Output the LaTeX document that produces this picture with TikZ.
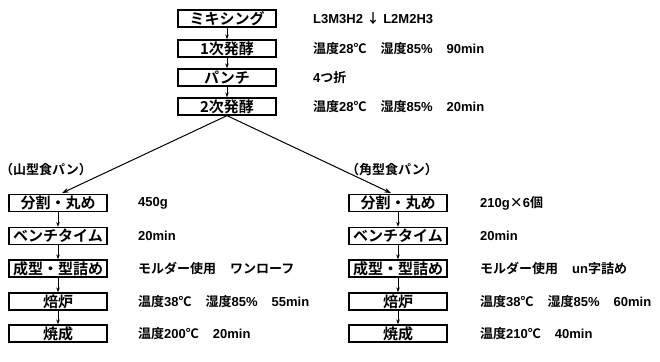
\documentclass[tikz,border=0pt]{standalone}
\usepackage{fontspec}
\usetikzlibrary{arrows.meta}
\newfontfamily\jp[BoldFont={Noto Sans CJK JP Bold}]{Noto Sans CJK JP}
\newfontfamily\lat{Liberation Sans}
\newcommand\J[1]{{\jp\bfseries #1}}
\newcommand\gp{\hspace{14pt}}
\tikzset{
  stepbox/.style={draw=black, line width=1.3pt, minimum width=98pt, minimum height=17pt, inner sep=0pt, font=\jp\bfseries\fontsize{15}{15}\selectfont},
  note/.style={anchor=west, inner sep=0pt, font=\lat\bfseries\fontsize{13}{14}\selectfont},
  lbl/.style={anchor=west, inner sep=0pt, font=\jp\bfseries\fontsize{13}{14}\selectfont},
  flow/.style={line width=0.8pt, -{Stealth[length=5pt,width=3.5pt]}},
  branch/.style={line width=1pt, -{Stealth[length=7pt,width=4.5pt]}, shorten >=2pt}
}
\begin{document}
\begin{tikzpicture}[x=1pt,y=-1pt]
\useasboundingbox (0,0) rectangle (660,361);
% top column
\node[stepbox] (mix) at (227,18.5) {ミキシング};
\node[stepbox] (f1) at (227,48.5) {1次発酵};
\node[stepbox] (pun) at (227,77.5) {パンチ};
\node[stepbox] (f2) at (227,106.5) {2次発酵};
\node[note] (tmix) at (313,18.5) {L3M3H2 \J{↓} L2M2H3};
\node[note] (tf1) at (313,48.5) {\J{温度}28\J{℃}\gp\J{湿度}85\%\gp 90min};
\node[note] (tpun) at (313,77.5) {4\J{つ折}};
\node[note] (tf2) at (313,106.5) {\J{温度}28\J{℃}\gp\J{湿度}85\%\gp 20min};
\draw[flow] (mix) -- (f1);
\draw[flow] (f1) -- (pun);
\draw[flow] (pun) -- (f2);
% labels
\node[lbl] (ly) at (0,170) {（山型食パン）};
\node[lbl] (lk) at (346,170) {（角型食パン）};
% left column
\node[stepbox] (a1) at (58,203) {分割・丸め};
\node[stepbox] (a2) at (58,236) {ベンチタイム};
\node[stepbox] (a3) at (58,268.5) {成型・型詰め};
\node[stepbox] (a4) at (58,301.5) {焙炉};
\node[stepbox] (a5) at (58,333.5) {焼成};
\node[note] (ta1) at (138,203) {450g};
\node[note] (ta2) at (138,236) {20min};
\node[note] (ta3) at (138,268.5) {\J{モルダー使用}\gp\J{ワンローフ}};
\node[note] (ta4) at (138,301.5) {\J{温度}38\J{℃}\gp\J{湿度}85\%\gp 55min};
\node[note] (ta5) at (138,333.5) {\J{温度}200\J{℃}\gp 20min};
\draw[flow] (a1) -- (a2);
\draw[flow] (a2) -- (a3);
\draw[flow] (a3) -- (a4);
\draw[flow] (a4) -- (a5);
% right column
\node[stepbox] (b1) at (398,203) {分割・丸め};
\node[stepbox] (b2) at (398,236) {ベンチタイム};
\node[stepbox] (b3) at (398,268.5) {成型・型詰め};
\node[stepbox] (b4) at (398,301.5) {焙炉};
\node[stepbox] (b5) at (398,333.5) {焼成};
\node[note] (tb1) at (480,203) {210g\J{×}6\J{個}};
\node[note] (tb2) at (480,236) {20min};
\node[note] (tb3) at (480,268.5) {\J{モルダー使用}\gp un\J{字詰め}};
\node[note] (tb4) at (480,301.5) {\J{温度}38\J{℃}\gp\J{湿度}85\%\gp 60min};
\node[note] (tb5) at (480,333.5) {\J{温度}210\J{℃}\gp 40min};
\draw[flow] (b1) -- (b2);
\draw[flow] (b2) -- (b3);
\draw[flow] (b3) -- (b4);
\draw[flow] (b4) -- (b5);
% branches
\coordinate (la) at (60,194);
\coordinate (rb) at (393,194);
\draw[branch] (f2.south) -- (la);
\draw[branch] (f2.south) -- (rb);
\end{tikzpicture}
\end{document}
